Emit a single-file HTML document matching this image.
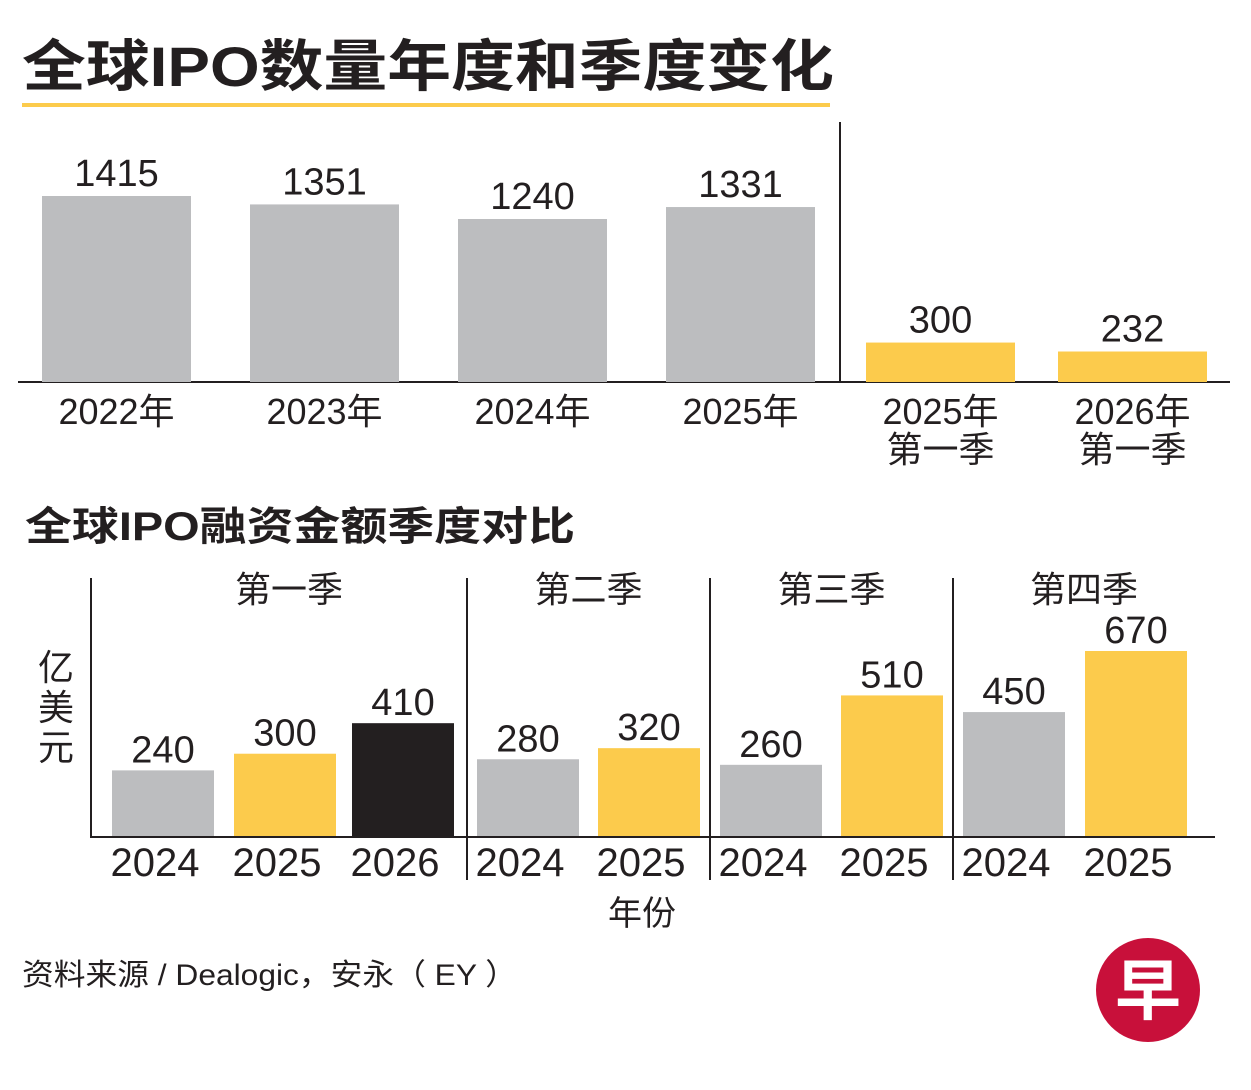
<!DOCTYPE html>
<html><head><meta charset="utf-8"><style>
html,body{margin:0;padding:0;background:#fff;width:1251px;height:1090px;overflow:hidden}
svg{display:block;font-family:"Liberation Sans","Noto Sans CJK SC",sans-serif}
</style></head><body>
<svg id="c" width="1251" height="1090">
<text x="22" y="86" font-size="56" font-weight="bold" fill="#231f20" textLength="812" lengthAdjust="spacingAndGlyphs">全球IPO数量年度和季度变化</text>
<rect x="22" y="103" width="808" height="4" fill="#fccb4c"/>
<line x1="840" y1="122" x2="840" y2="382" stroke="#231f20" stroke-width="2"/>
<line x1="18" y1="382" x2="1230" y2="382" stroke="#231f20" stroke-width="2"/>
<g id="top"></g>
<text x="25" y="540" font-size="40" font-weight="bold" fill="#231f20" textLength="550" lengthAdjust="spacingAndGlyphs">全球IPO融资金额季度对比</text>
<g font-size="36" fill="#231f20" text-anchor="middle">
<text x="56" y="680">亿</text><text x="56" y="720">美</text><text x="56" y="760">元</text></g>
<line x1="91" y1="578" x2="91" y2="837" stroke="#231f20" stroke-width="2"/>
<g id="bot"></g>
<line x1="90" y1="837" x2="1215" y2="837" stroke="#231f20" stroke-width="2"/>
<text x="642" y="925" font-size="34" text-anchor="middle" fill="#231f20">年份</text>
<text x="22" y="985" font-size="30" fill="#231f20" textLength="495" lengthAdjust="spacingAndGlyphs">资料来源 / Dealogic，安永（ EY ）</text>
<g>
<circle cx="1148" cy="990" r="52" fill="#c8103a"/>
<text x="1148" y="1014" font-size="66" font-weight="bold" fill="#fff" text-anchor="middle">早</text></g>
</svg>
<script>
const topCats=["2022年","2023年","2024年","2025年","2025年\n第一季","2026年\n第一季"];
const topVals=[1415,1351,1240,1331,300,232];
const topKinds=["g","g","g","g","y","y"];
const quarters=["第一季","第二季","第三季","第四季"];
const botYears=[["2024","2025","2026"],["2024","2025"],["2024","2025"],["2024","2025"]];
const botVals=[[240,300,410],[280,320],[260,510],[450,670]];
const botKinds=[["g","y","k"],["g","y"],["g","y"],["g","y"]];
const col={g:"#bcbdbf",y:"#fccb4c",k:"#231f20"};
const NS="http://www.w3.org/2000/svg";
function mk(p,t,a,txt){const e=document.createElementNS(NS,t);for(const k in a)e.setAttribute(k,a[k]);if(txt!=null)e.textContent=txt;p.appendChild(e);return e;}
const tg=document.getElementById('top');
const tBase=382,tScale=186/1415;
const tX=[42,250,458,666,866,1058],tW=149;
function ty(v){return tBase-v*tScale;}
topVals.forEach((v,i)=>{
  const r=mk(tg,'rect',{x:tX[i],y:ty(v),width:tW,height:tBase-ty(v),fill:col[topKinds[i]]});
  
  
  const cx=tX[i]+tW/2;
  const t=mk(tg,'text',{x:cx,y:ty(v)-10,'font-size':38,'text-anchor':'middle',fill:'#231f20'},String(v));
  
  
  topCats[i].split("\n").forEach((ln,j)=>{
    const l=mk(tg,'text',{x:cx,y:424+j*38,'font-size':36,'text-anchor':'middle',fill:'#231f20'},ln);
    
    
  });
});
const bg=document.getElementById('bot');
const bBase=837,bScale=186/670;
function by(v){return bBase-v*bScale;}
const gStart=[91,467,710,953],gEnd=[467,710,953,1215];
const barX=[[112,234,352],[477,598],[720,841],[963,1085]],bW=102;
quarters.forEach((q,gi)=>{
  if(gi>0){const s=mk(bg,'line',{x1:gStart[gi],y1:578,x2:gStart[gi],y2:880,stroke:'#231f20','stroke-width':2});
    
    }
  const ql=mk(bg,'text',{x:(gStart[gi]+gEnd[gi])/2+(gi==0?10:0),y:602,'font-size':36,'text-anchor':'middle',fill:'#231f20'},q);
  
  
  botVals[gi].forEach((v,i)=>{
    const x=barX[gi][i];
    const r=mk(bg,'rect',{x:x,y:by(v),width:bW,height:bBase-by(v),fill:col[botKinds[gi][i]]});
    
    
    const t=mk(bg,'text',{x:x+bW/2,y:by(v)-8,'font-size':38,'text-anchor':'middle',fill:'#231f20'},String(v));
    
    
    const yl=mk(bg,'text',{x:x+bW/2-8,y:876,'font-size':40,'text-anchor':'middle',fill:'#231f20'},botYears[gi][i]);
    
    
  });
});
</script>
</body></html>
